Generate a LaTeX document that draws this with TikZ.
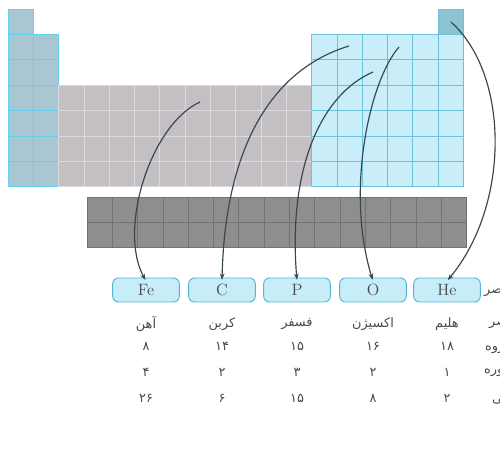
\documentclass[tikz,border=0pt]{standalone}
\usepackage{fontspec}
\usepackage{xcolor}
\usepackage{tikz}
\usetikzlibrary{arrows.meta,positioning}
\TeXXeTstate=1
\newfontfamily\arabicfont[Script=Arabic]{DejaVu Sans}
\definecolor{sfill}{HTML}{A9C6D3}
\definecolor{sline}{HTML}{62D0EE}
\definecolor{dfill}{HTML}{C3BFC3}
\definecolor{dline}{HTML}{DCDADC}
\definecolor{pfill}{HTML}{C9EEFA}
\definecolor{pline}{HTML}{6CC2DA}
\definecolor{hefill}{HTML}{8FC2D3}
\definecolor{ffill}{HTML}{8E8E8E}
\definecolor{fline}{HTML}{727272}
\definecolor{boxc}{HTML}{C7EDF9}
\definecolor{boxd}{HTML}{55B5D5}
\definecolor{arc}{HTML}{37474F}
\definecolor{txtc}{HTML}{4A4A4A}
\tikzset{
  scell/.style={fill=sfill,draw=sline,line width=0.7pt},
  dcell/.style={fill=dfill,draw=dline,line width=0.6pt},
  pcell/.style={fill=pfill,draw=pline,line width=0.6pt},
  fcell/.style={fill=ffill,draw=fline,line width=0.6pt},
  elbox/.style={draw=boxd,line width=0.8pt,rounded corners=5pt,fill=boxc,minimum width=2cm,minimum height=0.72cm,inner sep=0pt,font=\fontsize{14}{16}\selectfont,text=txtc},
  fa/.style={font=\arabicfont\fontsize{11}{13}\selectfont,text=txtc,inner sep=0pt},
  fn/.style={font=\arabicfont\fontsize{11}{13}\selectfont,text=txtc,inner sep=0pt},
  ar/.style={-{Stealth[length=1.9mm,width=1.4mm]},line width=1pt,arc,shorten >=1pt}
}
\begin{document}
\begin{tikzpicture}[x=0.03cm,y=-0.03cm]
\useasboundingbox (0,0) rectangle (500,457);
% main table
\foreach \r in {1,...,7} \draw[scell] (8,{9+(\r-1)*25.4}) rectangle ++(25.3,25.4);
\foreach \r in {2,...,7} \draw[scell] (33.3,{9+(\r-1)*25.4}) rectangle ++(25.3,25.4);
\foreach \c in {3,...,12} \foreach \r in {4,...,7}
  \draw[dcell] ({8+(\c-1)*25.3},{9+(\r-1)*25.4}) rectangle ++(25.3,25.4);
\foreach \c in {13,...,18} \foreach \r in {2,...,7}
  \draw[pcell] ({8+(\c-1)*25.3},{9+(\r-1)*25.4}) rectangle ++(25.3,25.4);
\draw[pcell,fill=hefill] (438.1,9) rectangle ++(25.3,25.4);
% f block
\foreach \c in {1,...,15} \foreach \r in {1,2}
  \draw[fcell] ({87+(\c-1)*25.3},{197+(\r-1)*25}) rectangle ++(25.3,25);
% element boxes
\node[elbox] (fe) at (146,290) {Fe};
\node[elbox] (c) at (222,290) {C};
\node[elbox] (p) at (297,290) {P};
\node[elbox] (o) at (373,290) {O};
\node[elbox] (he) at (447,290) {He};
\coordinate (feS) at (200,102);
\coordinate (cS) at (349,46);
\coordinate (pS) at (373,72);
\coordinate (oS) at (399,47);
\coordinate (heS) at (451,22);
\draw[ar] (feS) .. controls (150,125) and (118,230) .. ([yshift=-3pt]fe.north);
\draw[ar] (cS) .. controls (270,70) and (225,150) .. ([yshift=-3pt]c.north);
\draw[ar] (pS) .. controls (320,95) and (288,170) .. ([yshift=-3pt]p.north);
\draw[ar] (oS) .. controls (370,80) and (345,190) .. ([yshift=-3pt]o.north);
\draw[ar] (heS) .. controls (510,75) and (510,205) .. ([yshift=-3pt]he.north);
% names and numbers
\node[fa] (nfe) at (146,324) {\beginR آهن\endR};
\node[fa] (nc) at (222,324) {\beginR کربن\endR};
\node[fa] (np) at (297,324) {\beginR فسفر\endR};
\node[fa] (no) at (373,324) {\beginR اکسیژن\endR};
\node[fa] (nhe) at (447,324) {\beginR هلیم\endR};
\node[fn] at (146,346) {۸};
\node[fn] at (222,346) {۱۴};
\node[fn] at (297,346) {۱۵};
\node[fn] at (373,346) {۱۶};
\node[fn] at (447,346) {۱۸};
\node[fn] at (146,372) {۴};
\node[fn] at (222,372) {۲};
\node[fn] at (297,372) {۳};
\node[fn] at (373,372) {۲};
\node[fn] at (447,372) {۱};
\node[fn] at (146,398) {۲۶};
\node[fn] at (222,398) {۶};
\node[fn] at (297,398) {۱۵};
\node[fn] at (373,398) {۸};
\node[fn] at (447,398) {۲};
% row labels, cut by the page edge
\node[fa,anchor=west] (l1) at (484,292) {\beginR عنصر\endR};
\node[fa,anchor=west] (l2) at (489,324) {\beginR عنصر\endR};
\node[fa,anchor=west] (l3) at (485,346) {\beginR گروه\endR};
\node[fa,anchor=west] (l4) at (484,372) {\beginR دوره\endR};
\node[fa,anchor=west] (l5) at (492,398) {\beginR اتمی\endR};
\end{tikzpicture}
\end{document}
